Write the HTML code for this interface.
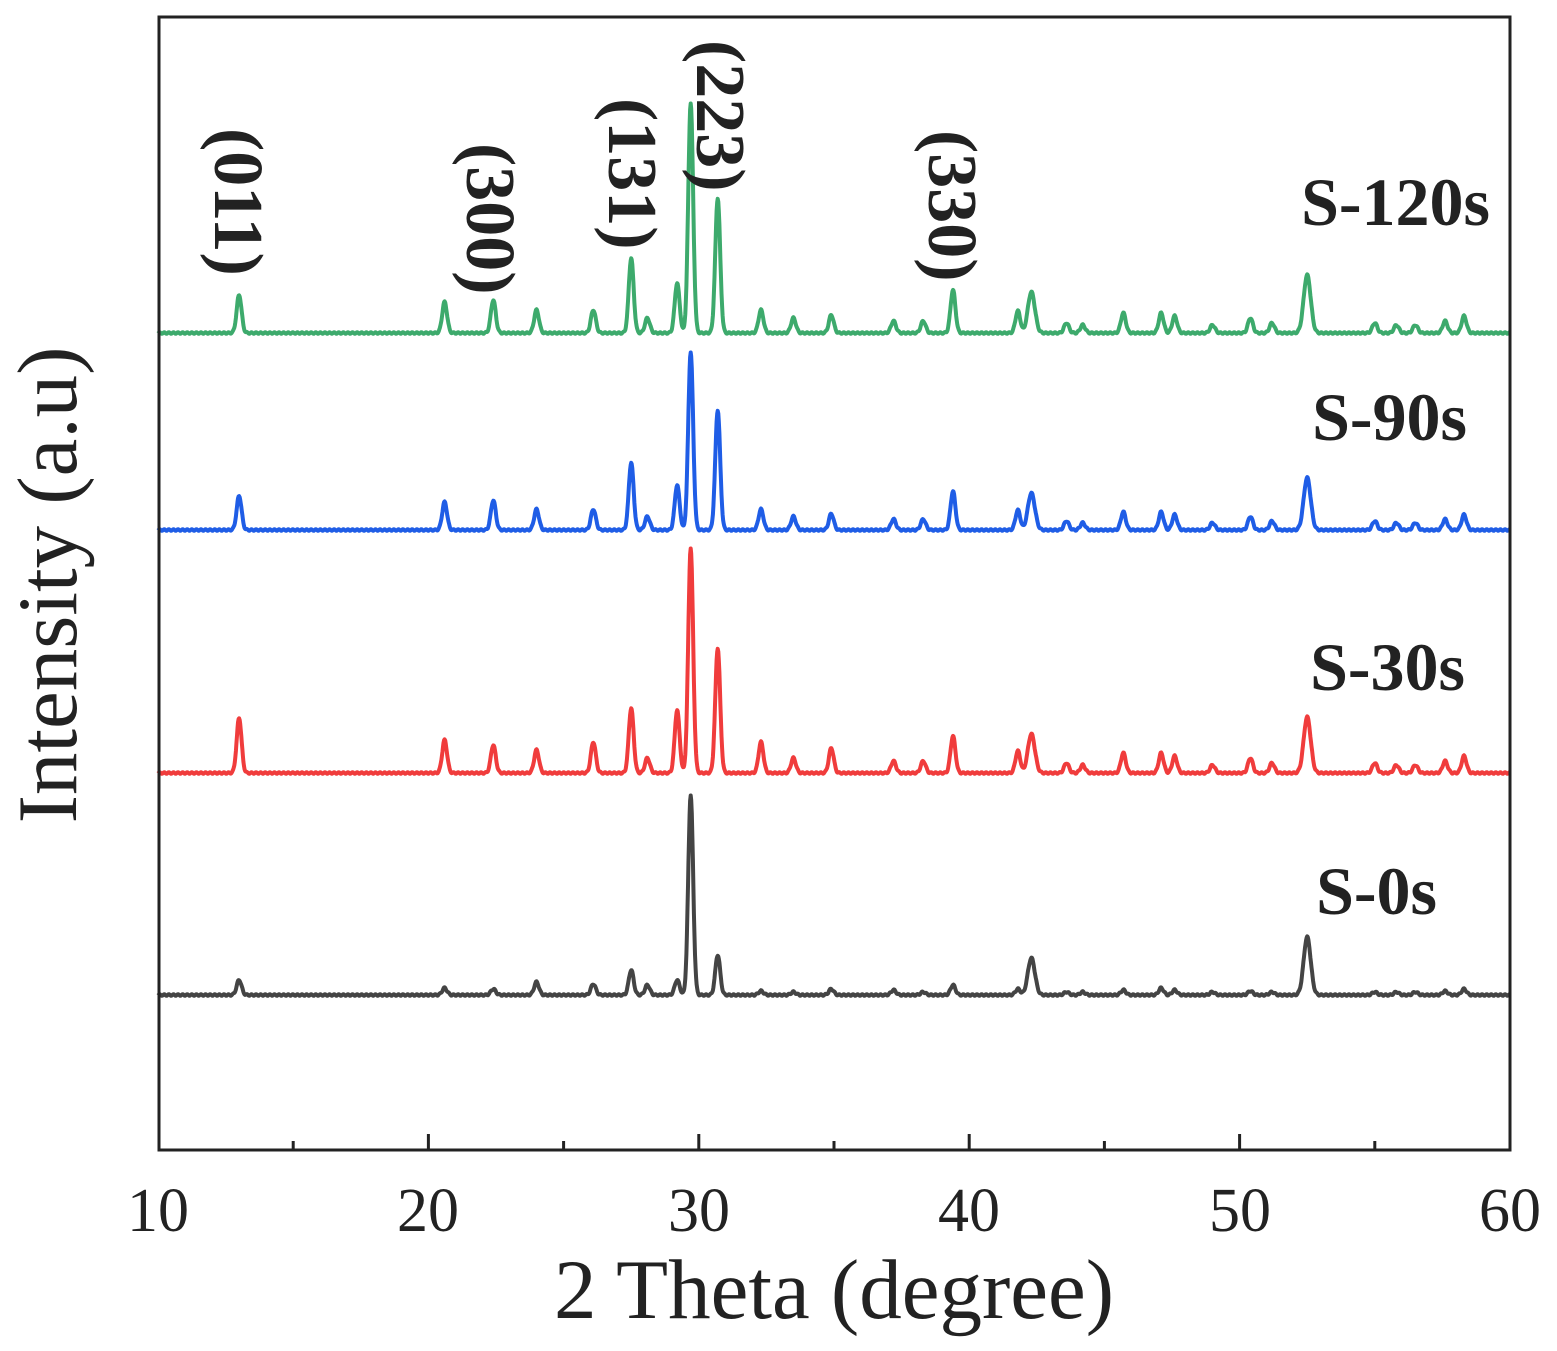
<!DOCTYPE html>
<html><head><meta charset="utf-8">
<style>
html,body{margin:0;padding:0;background:#fff;}
svg{display:block;}
text{font-family:"Liberation Serif",serif;fill:#222;}
</style></head>
<body>
<svg id="s" width="1557" height="1351" viewBox="0 0 1557 1351" xmlns="http://www.w3.org/2000/svg">
<g id="curves"></g>
<rect x="159" y="17" width="1351" height="1133" fill="none" stroke="#222" stroke-width="3"/>
<g id="ticks" stroke="#222" stroke-width="3"></g>
<g font-size="62" text-anchor="middle">
<text x="158" y="1231">10</text><text x="428" y="1231">20</text><text x="699" y="1231">30</text>
<text x="969" y="1231">40</text><text x="1240" y="1231">50</text><text x="1510" y="1231">60</text>
</g>
<text x="834" y="1318" font-size="85" text-anchor="middle">2 Theta (degree)</text>
<text transform="translate(76,585) rotate(-90)" font-size="85" text-anchor="middle">Intensity (a.u)</text>
<g font-size="70" font-weight="bold">
<text transform="translate(215,128) rotate(90)">(011)</text>
<text transform="translate(467,143) rotate(90)">(300)</text>
<text transform="translate(609,98) rotate(90)">(131)</text>
<text transform="translate(697,40) rotate(90)">(223)</text>
<text transform="translate(929,130) rotate(90)">(330)</text>
</g>
<g font-size="68" font-weight="bold" text-anchor="end">
<text x="1490" y="225">S-120s</text>
<text x="1467" y="440">S-90s</text>
<text x="1465" y="690">S-30s</text>
<text x="1437" y="914">S-0s</text>
</g>
</svg>
<script>
var X=function(t){return 158+(t-10)*27.04;};
var pos=[13,20.6,22.4,24,26.1,27.5,28.1,29.2,29.7,30.7,32.3,33.5,34.9,37.2,38.3,39.4,41.8,42.3,43.6,44.2,45.7,47.1,47.6,49,50.4,51.2,52.5,55,55.8,56.5,57.6,58.3];
var tmpl=[38,31,33,23,23,75,15,50,230,135,23,15,18,12,12,43,22,41,10,8,20,20,17,8,15,10,58,10,8,8,12,17];
var series=[
 {c:"#3daa6c",b:333,s:1.0,o:{}},
 {c:"#1f5de6",b:530,s:0.9,o:{8:178,9:120}},
 {c:"#f03c3c",b:773,s:1.0,o:{0:55,1:33,2:28,3:23,4:31,5:65,7:63,8:225,9:125,10:31,12:25,15:37,17:39,26:56}},
 {c:"#444",b:995,s:1,o:{0:15,1:7,2:6,3:13,4:11,5:25,6:10,7:15,8:200,9:40,10:4,11:3,12:6,13:5,14:3,15:10,16:6,17:37,18:3,19:3,20:5,21:7,22:5,23:3,24:4,25:3,26:58,27:3,28:3,29:3,30:4,31:6}}
];
var g=document.getElementById("curves"),ns="http://www.w3.org/2000/svg";
series.forEach(function(S){
 var d="";
 for(var t=10;t<=60;t+=0.02){
  var y=0;
  for(var i=0;i<pos.length;i++){
   var h=(S.o[i]!==undefined?S.o[i]:tmpl[i]*S.s);
   var w=(i==26||i==17)?0.13:0.09;
   var z=(t-pos[i])/w; if(Math.abs(z)<6) y+=h*Math.exp(-z*z/2);
  }
  y+=Math.sin(t*37)*0.8;
  d+=(d?"L":"M")+X(t).toFixed(1)+","+(S.b-y).toFixed(1);
 }
 var p=document.createElementNS(ns,"path");
 p.setAttribute("d",d);p.setAttribute("fill","none");p.setAttribute("stroke",S.c);
 p.setAttribute("stroke-width","4");p.setAttribute("stroke-linejoin","round");
 g.appendChild(p);
});
var tk=document.getElementById("ticks");
for(var t=15;t<60;t+=5){
 var l=document.createElementNS(ns,"line"),x=X(t),L=(t%10==0)?16:9;
 l.setAttribute("x1",x);l.setAttribute("x2",x);l.setAttribute("y1",1150);l.setAttribute("y2",1150-L);
 tk.appendChild(l);
}
</script>
</body></html>
